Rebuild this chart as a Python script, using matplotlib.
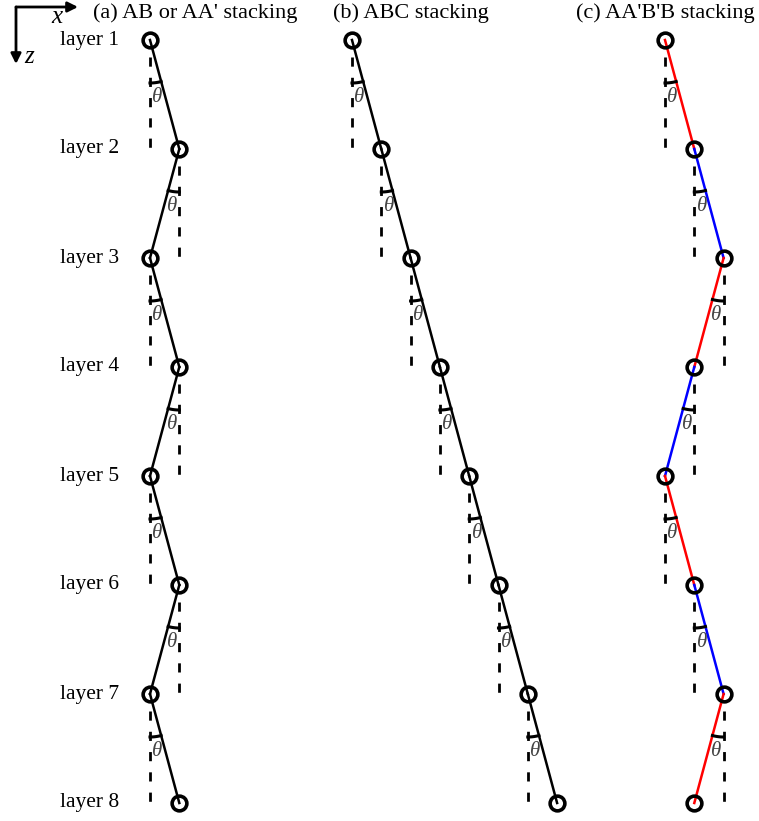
import numpy as np
import matplotlib
matplotlib.use("Agg")
import matplotlib.pyplot as plt

plt.rcParams['font.family'] = ['Liberation Serif', 'DejaVu Serif']

# data
layer_labels = ['layer 1', 'layer 2', 'layer 3', 'layer 4',
                'layer 5', 'layer 6', 'layer 7', 'layer 8']
titles = ["(a) AB or AA' stacking", "(b) ABC stacking", "(c) AA'B'B stacking"]
offset_ab = [0, 1, 0, 1, 0, 1, 0, 1]
offset_abc = [0, 1, 2, 3, 4, 5, 6, 7]
offset_aabb = [0, 1, 2, 1, 0, 1, 2, 1]
bonds_ab = ['black'] * 7
bonds_abc = ['black'] * 7
bonds_aabb = ['red', 'blue', 'red', 'blue', 'red', 'blue', 'red']

# layout (pixels)
W, H = 759, 821
x_step = 29.3
y_step = 109
y_top = 40
panel_x0 = [150, 352, 665]
title_x0 = [93, 333, 576]
r_arc = 43
r_theta = 58
dash_start = 17

fig = plt.figure(figsize=(W / 100, H / 100), dpi=100)
ax = fig.add_axes([0, 0, 1, 1])
ax.set_xlim(0, W)
ax.set_ylim(H, 0)
ax.axis('off')

panels = [(offset_ab, bonds_ab), (offset_abc, bonds_abc), (offset_aabb, bonds_aabb)]

for p, (offs, cols) in enumerate(panels):
    xs = panel_x0[p] + np.array(offs) * x_step
    ys = y_top + np.arange(len(offs)) * y_step
    for i in range(len(offs) - 1):
        # bond
        ax.plot(xs[i:i + 2], ys[i:i + 2], color=cols[i], lw=1.8, zorder=2)
        # vertical dashed reference
        ax.plot([xs[i], xs[i]], [ys[i] + dash_start, ys[i + 1]], color='black',
                lw=2, dashes=(3.3, 4.0), zorder=1)
        # angle arc
        phi_line = np.arctan2(ys[i + 1] - ys[i], xs[i + 1] - xs[i])
        phi = np.linspace(np.pi / 2, phi_line, 20)
        ax.plot(xs[i] + r_arc * np.cos(phi), ys[i] + r_arc * np.sin(phi),
                color='black', lw=2.2, zorder=2)
        pm = (np.pi / 2 + phi_line) / 2
        ax.text(xs[i] + r_theta * np.cos(pm), ys[i] + r_theta * np.sin(pm),
                '\u03b8', fontsize=15, style='italic', color='#444444',
                ha='center', va='center', zorder=3)
    ax.plot(xs, ys, 'o', ms=10.6, mfc='none', mec='black', mew=2.6, zorder=4)
    ax.text(title_x0[p], 13, titles[p], fontsize=16, ha='left', va='center')

for i, lab in enumerate(layer_labels):
    ax.text(119, y_top + i * y_step, lab, fontsize=15.5, ha='right', va='center')

# coordinate axes arrows
arrow = dict(arrowstyle='-|>', color='black', lw=2, mutation_scale=15,
             shrinkA=0, shrinkB=0)
ax.annotate('', xy=(78, 7), xytext=(16, 7), arrowprops=arrow)
ax.annotate('', xy=(16, 64), xytext=(16, 7), arrowprops=arrow)
ax.text(57, 17, 'x', fontsize=18, style='italic', ha='center', va='center')
ax.text(29, 57, 'z', fontsize=18, style='italic', ha='center', va='center')

fig.savefig('out.png', dpi=100)
